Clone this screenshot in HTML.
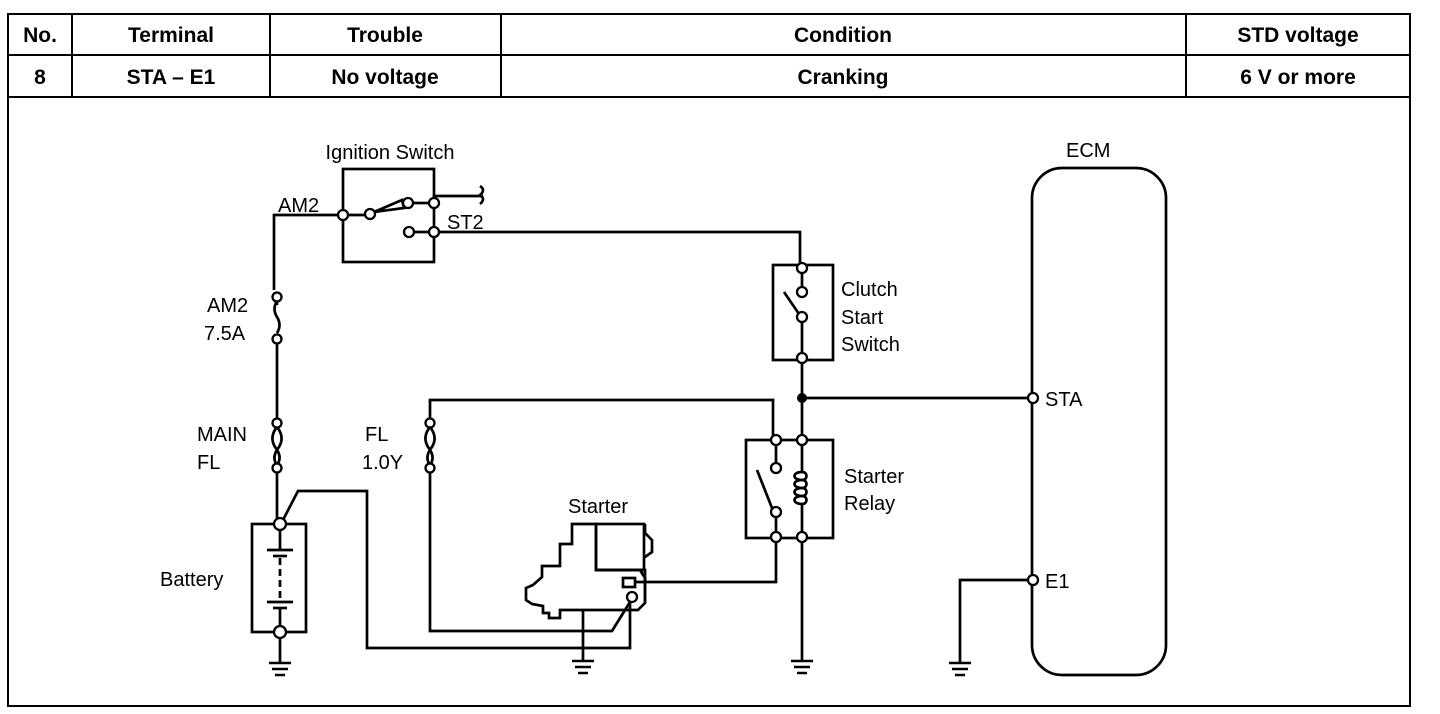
<!DOCTYPE html>
<html><head><meta charset="utf-8"><style>
html,body{margin:0;padding:0;background:#fff;}
svg{display:block;font-family:"Liberation Sans",sans-serif;}
.t{font-size:20px;fill:#000;}
.h{font-size:21px;font-weight:bold;fill:#000;text-anchor:middle;}
</style></head><body>
<svg width="1440" height="714" viewBox="0 0 1440 714" xmlns="http://www.w3.org/2000/svg">
<g fill="none" stroke="#000" stroke-width="2">
<rect x="8" y="14" width="1402" height="692"/>
<line x1="8" y1="55" x2="1410" y2="55"/>
<line x1="8" y1="97" x2="1410" y2="97"/>
<line x1="72" y1="14" x2="72" y2="97"/>
<line x1="270" y1="14" x2="270" y2="97"/>
<line x1="501" y1="14" x2="501" y2="97"/>
<line x1="1186" y1="14" x2="1186" y2="97"/>
</g>
<text class="h" x="40" y="42">No.</text>
<text class="h" x="171" y="42">Terminal</text>
<text class="h" x="385" y="42">Trouble</text>
<text class="h" x="843" y="42">Condition</text>
<text class="h" x="1298" y="42">STD voltage</text>
<text class="h" x="40" y="84">8</text>
<text class="h" x="171" y="84">STA – E1</text>
<text class="h" x="385" y="84">No voltage</text>
<text class="h" x="843" y="84">Cranking</text>
<text class="h" x="1298" y="84">6 V or more</text>

<g fill="none" stroke="#000" stroke-width="2.7">
<rect x="343" y="169" width="91" height="93"/>
<polyline points="343,215 274,215 274,290"/>
<line x1="343" y1="215" x2="370" y2="215"/>
<polygon points="374,212 402,200 404,208"/>
<line x1="409" y1="203" x2="434" y2="203"/>
<polyline points="434,199 434,196 483,196"/>
<path d="M480,186 q6,4 0,9 q6,4 0,9"/>
<line x1="413" y1="232" x2="434" y2="232"/>
<polyline points="434,232 800,232 800,265"/>
<line x1="277" y1="301" x2="277" y2="305"/>
<path d="M277,301 q-5,8 0,16 q5,8 0,16"/>
<line x1="277" y1="343" x2="277" y2="419"/>
<path d="M277,427 q-8,10 -2,20 q8,10 2,18 M277,427 q8,10 2,20 q-8,10 -2,18"/>
<line x1="277" y1="472" x2="277" y2="520"/>
<rect x="252" y="524" width="54" height="108"/>
<polyline points="283,520 298,491 367,491 367,648 630,648 630,602"/>
<line x1="267" y1="550" x2="293" y2="550"/><line x1="273" y1="556" x2="287" y2="556"/>
<line x1="280" y1="528" x2="280" y2="550"/><line x1="280" y1="558" x2="280" y2="600" stroke-dasharray="7,4"/>
<line x1="267" y1="602" x2="293" y2="602"/><line x1="273" y1="608" x2="287" y2="608"/>
<line x1="280" y1="608" x2="280" y2="628"/>
<line x1="280" y1="636" x2="280" y2="662"/>
<polyline points="430,419 430,400 773,400 773,436"/>
<path d="M430,427 q-8,10 -2,20 q8,10 2,18 M430,427 q8,10 2,20 q-8,10 -2,18"/>
<polyline points="430,472 430,631 612,631 630,602"/>
<rect x="596" y="524" width="48" height="46"/>
<polyline points="596,570 645,570 645,603"/>
<polygon points="572,524 596,524 596,570 640,570 645,578 645,603 638,610 560,610 560,618 549,618 549,613 543,613 543,606 532,604 526,600 526,588 533,585 542,577 542,566 560,566 560,544 572,544"/>
<polyline points="645,524 645,533 652,540 652,552 645,557"/>
<rect x="623" y="578" width="12" height="9"/>
<polyline points="635,582 776,582 776,541"/>
<line x1="583" y1="610" x2="583" y2="660"/>
<rect x="773" y="265" width="60" height="95"/>
<line x1="802" y1="272" x2="802" y2="288"/>
<line x1="784" y1="292" x2="799" y2="314"/>
<line x1="802" y1="321" x2="802" y2="354"/>
<line x1="802" y1="362" x2="802" y2="436"/>
<line x1="802" y1="398" x2="1029" y2="398"/>
<rect x="746" y="440" width="87" height="98"/>
<line x1="776" y1="444" x2="776" y2="464"/>
<line x1="757" y1="470" x2="772" y2="508"/>
<line x1="776" y1="516" x2="776" y2="533"/>
<line x1="802" y1="444" x2="802" y2="472"/>
<path d="M802,472 c-10,0 -10,8 0,8 c-10,0 -10,8 0,8 c-10,0 -10,8 0,8 c-10,0 -10,8 0,8"/>
<path d="M802,472 c6,0 6,8 0,8 c6,0 6,8 0,8 c6,0 6,8 0,8 c6,0 6,8 0,8"/>
<line x1="802" y1="504" x2="802" y2="533"/>
<line x1="802" y1="541" x2="802" y2="660"/>
<rect x="1032" y="168" width="134" height="507" rx="30"/>
<polyline points="1029,580 960,580 960,662"/>
</g>
<g stroke="#000" stroke-width="2.5">
<line x1="269" y1="663" x2="291" y2="663"/><line x1="272" y1="669" x2="288" y2="669"/><line x1="275" y1="675" x2="285" y2="675"/>
<line x1="572" y1="661" x2="594" y2="661"/><line x1="575" y1="667" x2="591" y2="667"/><line x1="578" y1="673" x2="588" y2="673"/>
<line x1="791" y1="661" x2="813" y2="661"/><line x1="794" y1="667" x2="810" y2="667"/><line x1="797" y1="673" x2="807" y2="673"/>
<line x1="949" y1="663" x2="971" y2="663"/><line x1="952" y1="669" x2="968" y2="669"/><line x1="955" y1="675" x2="965" y2="675"/>
</g>
<g fill="#fff" stroke="#000" stroke-width="2.3">
<circle cx="343" cy="215" r="5"/><circle cx="370" cy="214" r="5"/><circle cx="408" cy="203" r="5"/>
<circle cx="434" cy="203" r="5"/><circle cx="434" cy="232" r="5"/><circle cx="409" cy="232" r="5"/>
<circle cx="277" cy="297" r="4.5"/><circle cx="277" cy="339" r="4.5"/>
<circle cx="277" cy="423" r="4.5"/><circle cx="277" cy="468" r="4.5"/>
<circle cx="430" cy="423" r="4.5"/><circle cx="430" cy="468" r="4.5"/>
<circle cx="280" cy="524" r="6"/><circle cx="280" cy="632" r="6"/>
<circle cx="632" cy="597" r="5"/>
<circle cx="802" cy="268" r="5"/><circle cx="802" cy="292" r="5"/><circle cx="802" cy="317" r="5"/><circle cx="802" cy="358" r="5"/>
<circle cx="776" cy="440" r="5"/><circle cx="802" cy="440" r="5"/><circle cx="776" cy="468" r="5"/><circle cx="776" cy="512" r="5"/>
<circle cx="776" cy="537" r="5"/><circle cx="802" cy="537" r="5"/>
<circle cx="1033" cy="398" r="5"/><circle cx="1033" cy="580" r="5"/>
</g>
<circle cx="802" cy="398" r="5" fill="#000"/>
<text class="t" x="390" y="159" text-anchor="middle">Ignition Switch</text>
<text class="t" x="278" y="212">AM2</text>
<text class="t" x="447" y="229">ST2</text>
<text class="t" x="207" y="312">AM2</text>
<text class="t" x="204" y="340">7.5A</text>
<text class="t" x="197" y="441">MAIN</text>
<text class="t" x="197" y="469">FL</text>
<text class="t" x="365" y="441">FL</text>
<text class="t" x="362" y="469">1.0Y</text>
<text class="t" x="841" y="296">Clutch</text>
<text class="t" x="841" y="324">Start</text>
<text class="t" x="841" y="351">Switch</text>
<text class="t" x="844" y="483">Starter</text>
<text class="t" x="844" y="510">Relay</text>
<text class="t" x="568" y="513">Starter</text>
<text class="t" x="160" y="586">Battery</text>
<text class="t" x="1066" y="157">ECM</text>
<text class="t" x="1045" y="406">STA</text>
<text class="t" x="1045" y="588">E1</text>
</svg>
</body></html>
